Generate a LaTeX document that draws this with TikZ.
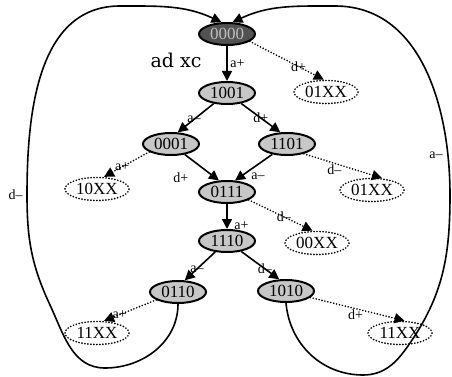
\documentclass[tikz,border=0pt]{standalone}
\usepackage{fontspec}
\setmainfont{Liberation Serif}
\newfontfamily\adxcfont{DejaVu Serif}
\usetikzlibrary{shapes.geometric,arrows.meta}
\begin{document}
\begin{tikzpicture}[x=1pt,y=1pt,
  st/.style={ellipse, draw, line width=2pt, fill=black!22, minimum width=56pt, minimum height=22pt, inner sep=0pt, font=\fontsize{17}{17}\selectfont},
  dc/.style={ellipse, draw, dash pattern=on 0pt off 3pt, line cap=round, line width=1.9pt, fill=white, minimum width=64pt, minimum height=23pt, inner sep=0pt, font=\fontsize{17}{17}\selectfont},
  arr/.style={line width=1.6pt, -{Triangle[length=10pt,width=10pt]}},
  darr/.style={arr, dash pattern=on 0pt off 3pt, line width=1.8pt, line cap=round},
  lbl/.style={font=\fontsize{14}{14}\selectfont, inner sep=0.5pt},
]
\useasboundingbox (0,0) rectangle (452,-377);

\node[st, fill=black!68, text=black!25] (n0000) at (227,-34) {0000};
\node[st] (n1001) at (227,-93) {1001};
\node[dc] (x01a) at (326,-92) {01XX};
\node[st] (n0001) at (171,-144) {0001};
\node[st] (n1101) at (287,-144) {1101};
\node[dc] (x10) at (97,-189) {10XX};
\node[st] (n0111) at (227,-192) {0111};
\node[dc] (x01b) at (372,-190) {01XX};
\node[st] (n1110) at (227,-241) {1110};
\node[dc] (x00) at (317,-243) {00XX};
\node[st] (n0110) at (178,-292) {0110};
\node[st] (n1010) at (286,-291) {1010};
\node[dc] (x11a) at (97,-333) {11XX};
\node[dc] (x11b) at (400,-333) {11XX};

\node[font=\adxcfont\fontsize{19}{19}\selectfont, inner sep=0pt] (adxc) at (176,-60) {ad xc};

\draw[arr] (n0000) -- node[lbl, pos=0.5, right=2pt] (l1) {a+} (n1001);
\draw[darr] (n0000.-18) -- node[lbl, pos=0.66] (l2) {d+} (x01a.100);
\draw[arr] (n1001) -- node[lbl, pos=0.55] (l3) {a--} (n0001.60);
\draw[arr] (n1001) -- node[lbl, pos=0.5] (l4) {d+} (n1101.120);
\draw[darr] (n0001.-160) -- node[lbl, pos=0.6] (l5) {a+} (x10.60);
\draw[arr] (n0001) -- node[lbl, pos=0.7, xshift=-28pt, yshift=-5pt] (l6) {d+} (n0111.125);
\draw[arr] (n1101) -- node[lbl, pos=0.6, xshift=8pt, yshift=-6pt] (l7) {a--} (n0111.55);
\draw[darr] (n1101.-30) -- node[lbl, pos=0.39, yshift=-6pt] (l8) {d--} (x01b.50);
\draw[arr] (n0111) -- node[lbl, pos=0.85, right=6pt] (l9) {a+} (n1110);
\draw[darr] (n0111.-20) -- node[lbl, pos=0.55] (l10) {d--} (x00.110);
\draw[arr] (n1110) -- node[lbl, pos=0.6] (l11) {a--} (n0110.60);
\draw[arr] (n1110) -- node[lbl, pos=0.62] (l12) {d--} (n1010.120);
\draw[darr] (n0110.-160) -- node[lbl, pos=0.7] (l13) {a+} (x11a.60);
\draw[darr] (n1010.-15) -- node[lbl, pos=0.48, yshift=-6pt] (l14) {d+} (x11b.70);

\draw[arr] (n0110.south) to[out=-90,in=0] (105,-368)
  to[out=180,in=-65] (50,-305)
  to[out=115,in=-90] node[lbl, pos=1, left=3pt] (l15) {d--} (27,-195)
  to[out=90,in=180] (120,-6)
  to[out=0,in=155] (n0000.115);
\draw[arr] (n1010.south) to[out=-85,in=180] (363,-375)
  to[out=0,in=-125] (408,-346)
  to[out=55,in=-90] (450,-195)
  to[out=90,in=0] node[lbl, pos=0.15, left=4pt] (l16) {a--} (335,-6)
  to[out=180,in=25] (n0000.65);
\end{tikzpicture}
\end{document}
